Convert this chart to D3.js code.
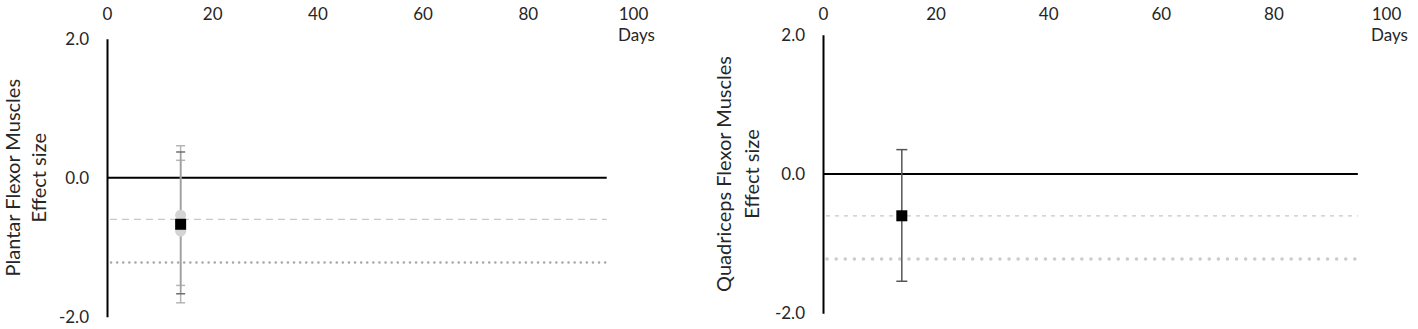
<!DOCTYPE html>
<html>
<head>
<meta charset="utf-8">
<script src="https://cdn.jsdelivr.net/npm/d3@7"></script>
<style>
  body { margin: 0; background: #fff; }
  text { font-family: Lato, "Open Sans", sans-serif; fill: #262626; }
</style>
</head>
<body>
<div id="chart"></div>
<script>
// Chart data
let dayTicks = [0, 20, 40, 60, 80, 100];
let esTicks = [-2, 0, 2];
let lineEnd = 95; // days, where the zero / reference lines stop

// reference thresholds for effect size
let dashLevel = -0.6;
let dotLevel = -1.22;

// Plantar flexor muscles: individual studies + pooled
let plantarStudyDay = [14, 14];
let plantarStudyES = [-0.54, -0.77];
let plantarStudyLo = [-1.55, -1.80];
let plantarStudyHi = [0.46, 0.25];
let plantarPoolDay = [14];
let plantarPoolES = [-0.67];
let plantarPoolLo = [-1.67];
let plantarPoolHi = [0.37];

// Quadriceps flexor muscles: pooled only
let quadStudyDay = [];
let quadStudyES = [];
let quadStudyLo = [];
let quadStudyHi = [];
let quadPoolDay = [14];
let quadPoolES = [-0.60];
let quadPoolLo = [-1.54];
let quadPoolHi = [0.35];

let svgWidth = 1418;
let svgHeight = 329;

let svg = d3.select("#chart")
  .append("svg")
  .attr("width", svgWidth)
  .attr("height", svgHeight);

// Draw one panel
function drawPanel(p) {
  let x = d3.scaleLinear().domain([0, 100]).range([p.left, p.right]);
  let y = d3.scaleLinear().domain([-2, 2]).range([p.bottom, p.top]);

  let g = svg.append("g");

  // top axis with day labels
  let topAxis = g.append("g")
    .attr("transform", "translate(0, 20)")
    .call(d3.axisTop(x).tickValues(dayTicks).tickSize(0).tickPadding(0));
  topAxis.select(".domain").remove();
  topAxis.selectAll("text").style("font-size", "17px").attr("fill", "#262626");

  g.append("text")
    .attr("x", x(100) - 15)
    .attr("y", 41)
    .style("font-size", "17px")
    .text("Days");

  // left axis
  let leftAxis = g.append("g")
    .attr("transform", `translate(${x(0)}, 0)`)
    .call(d3.axisLeft(y).tickValues(esTicks).tickSize(0).tickPadding(18)
      .tickFormat(d3.format(".1f")));
  leftAxis.select(".domain").attr("stroke", "#000").attr("stroke-width", 2);
  leftAxis.selectAll("text").style("font-size", "17px").attr("fill", "#262626")
    .text(d => d < 0 ? "-" + d3.format(".1f")(-d) : d3.format(".1f")(d));

  // axis title
  let midY = (y(2) + y(-2)) / 2;
  g.append("text")
    .attr("transform", `translate(${p.titleX}, ${midY}) rotate(-90)`)
    .attr("text-anchor", "middle")
    .style("font-size", "20px")
    .text(p.title);
  g.append("text")
    .attr("transform", `translate(${p.titleX + p.titleGap}, ${midY}) rotate(-90)`)
    .attr("text-anchor", "middle")
    .style("font-size", "20px")
    .text("Effect  size");

  // reference lines
  g.append("line")
    .attr("x1", x(0) + 3).attr("x2", x(lineEnd))
    .attr("y1", y(dashLevel)).attr("y2", y(dashLevel))
    .attr("stroke", p.dashColor).attr("stroke-width", 1.2)
    .attr("stroke-dasharray", p.dashPattern);
  g.append("line")
    .attr("x1", x(0) + 4).attr("x2", x(lineEnd))
    .attr("y1", y(dotLevel)).attr("y2", y(dotLevel))
    .attr("stroke", p.dotColor).attr("stroke-width", p.dotWidth)
    .attr("stroke-linecap", "round")
    .attr("stroke-dasharray", p.dotPattern);

  // zero line
  g.append("line")
    .attr("x1", x(0)).attr("x2", x(lineEnd))
    .attr("y1", y(0)).attr("y2", y(0))
    .attr("stroke", "#000").attr("stroke-width", 2);

  // study error bars and circles
  let studies = p.studyDay.map((d, i) => ({ day: d, es: p.studyES[i], lo: p.studyLo[i], hi: p.studyHi[i] }));
  let pooled = p.poolDay.map((d, i) => ({ day: d, es: p.poolES[i], lo: p.poolLo[i], hi: p.poolHi[i] }));

  function errorBars(data, color, width, capHalf, capColor) {
    let eb = g.selectAll(null).data(data).enter().append("g");
    eb.append("line")
      .attr("x1", d => x(d.day)).attr("x2", d => x(d.day))
      .attr("y1", d => y(d.hi)).attr("y2", d => y(d.lo))
      .attr("stroke", color).attr("stroke-width", width);
    eb.append("line")
      .attr("x1", d => x(d.day) - capHalf).attr("x2", d => x(d.day) + capHalf)
      .attr("y1", d => y(d.hi)).attr("y2", d => y(d.hi))
      .attr("stroke", capColor).attr("stroke-width", 1.5);
    eb.append("line")
      .attr("x1", d => x(d.day) - capHalf).attr("x2", d => x(d.day) + capHalf)
      .attr("y1", d => y(d.lo)).attr("y2", d => y(d.lo))
      .attr("stroke", capColor).attr("stroke-width", 1.5);
  }

  errorBars(studies, "#b4b4b4", 1.5, 4.5, "#b4b4b4");
  errorBars(pooled, p.poolBarColor, 1.5, p.poolCap, p.poolCapColor);

  g.selectAll(null).data(studies).enter().append("circle")
    .attr("cx", d => x(d.day))
    .attr("cy", d => y(d.es))
    .attr("r", 5.5)
    .attr("fill", "#d4d4d4");

  let sq = 11;
  g.selectAll(null).data(pooled).enter().append("rect")
    .attr("x", d => x(d.day) - sq / 2)
    .attr("y", d => y(d.es) - sq / 2)
    .attr("width", sq)
    .attr("height", sq)
    .attr("fill", "#000");
}

drawPanel({
  left: 107, right: 633, top: 38.7, bottom: 316.7,
  titleX: 20, titleGap: 26,
  title: "Plantar Flexor Muscles",
  dashColor: "#c8c8c8", dashPattern: "7 5",
  dotColor: "#a8a8a8", dotWidth: 2.5, dotPattern: "0.1 6",
  studyDay: plantarStudyDay, studyES: plantarStudyES, studyLo: plantarStudyLo, studyHi: plantarStudyHi,
  poolDay: plantarPoolDay, poolES: plantarPoolES, poolLo: plantarPoolLo, poolHi: plantarPoolHi,
  poolBarColor: "#a0a0a0", poolCap: 4.5, poolCapColor: "#707070"
});

drawPanel({
  left: 823, right: 1386, top: 34.7, bottom: 313.3,
  titleX: 731, titleGap: 28,
  title: "Quadriceps Flexor Muscles",
  dashColor: "#c8c8c8", dashPattern: "4 5",
  dotColor: "#cccccc", dotWidth: 3.5, dotPattern: "0.1 9",
  studyDay: quadStudyDay, studyES: quadStudyES, studyLo: quadStudyLo, studyHi: quadStudyHi,
  poolDay: quadPoolDay, poolES: quadPoolES, poolLo: quadPoolLo, poolHi: quadPoolHi,
  poolBarColor: "#555555", poolCap: 5.5, poolCapColor: "#555555"
});
</script>
</body>
</html>
